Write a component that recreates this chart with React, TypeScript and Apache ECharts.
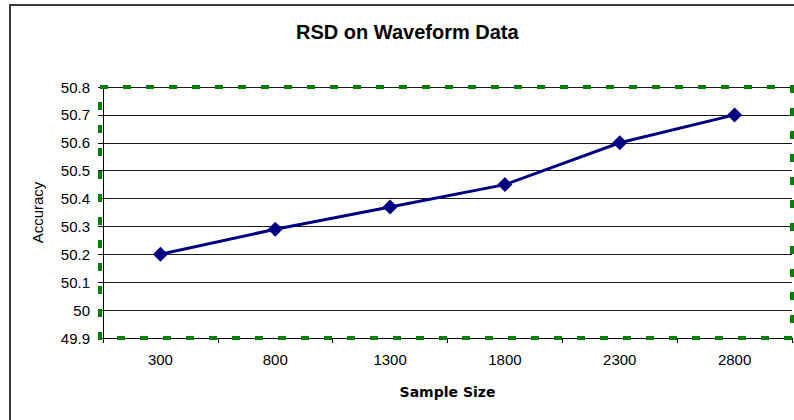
import React, { useEffect, useRef } from "react";
import * as echarts from "echarts";

const titleText = "RSD on Waveform Data";
const categories = ["300", "800", "1300", "1800", "2300", "2800"];
const accuracy = [50.2, 50.29, 50.37, 50.45, 50.6, 50.7];
const yMin = 49.9;
const yMax = 50.8;
const yStep = 0.1;
const xName = "Sample Size";
const yName = "Accuracy";

export default function App() {
  const ref = useRef<HTMLDivElement>(null);
  useEffect(() => {
    if (!ref.current) return;
    const chart = echarts.init(ref.current, null, { renderer: "svg" });
    const font = "'Liberation Sans', Arial, sans-serif";
    chart.setOption({
      animation: false,
      backgroundColor: "#ffffff",
      title: {
        text: titleText,
        left: 291,
        top: 17,
        textStyle: { fontFamily: font, fontSize: 20, fontWeight: "bold", color: "#000" },
      },
      grid: { left: 103, right: 2, top: 87, bottom: 82 },
      xAxis: {
        type: "category",
        data: categories,
        boundaryGap: true,
        name: xName,
        nameLocation: "middle",
        nameGap: 47,
        nameTextStyle: { fontFamily: "'DejaVu Sans', sans-serif", fontSize: 14, fontWeight: "bold", color: "#000" },
        axisLine: { lineStyle: { color: "#000", width: 1 } },
        axisTick: { show: true, length: 5, lineStyle: { color: "#000" } },
        axisLabel: { fontFamily: font, fontSize: 15, color: "#000", margin: 14 },
        splitLine: { show: false },
      },
      yAxis: {
        type: "value",
        min: yMin,
        max: yMax,
        interval: yStep,
        name: yName,
        nameLocation: "middle",
        nameGap: 58,
        nameRotate: 90,
        nameTextStyle: { fontFamily: font, fontSize: 15, color: "#000" },
        axisLine: { show: true, lineStyle: { color: "#000", width: 1 } },
        axisTick: { show: true, length: 5, lineStyle: { color: "#000" } },
        axisLabel: {
          fontFamily: font,
          fontSize: 15,
          color: "#000",
          margin: 13,
          formatter: (v: number) => String(parseFloat(v.toFixed(1))),
        },
        splitLine: { show: true, lineStyle: { color: "#1a1a1a", width: 1 } },
      },
      series: [
        {
          type: "line",
          data: accuracy,
          symbol: "diamond",
          symbolSize: 15,
          lineStyle: { color: "#000080", width: 3 },
          itemStyle: { color: "#000080" },
          z: 5,
        },
      ],
      graphic: [
        {
          type: "rect",
          shape: { x: 10, y: 5, width: 820, height: 450 },
          style: { fill: "none", stroke: "#3a3a3a", lineWidth: 2 },
          silent: true,
          z: 100,
        },
        {
          type: "rect",
          shape: { x: 100, y: 87, width: 692, height: 251 },
          style: { fill: "none", stroke: "#008000", lineWidth: 4, lineDash: [8, 15] },
          silent: true,
          z: 100,
        },
      ],
    });
    return () => chart.dispose();
  }, []);
  return (
    <div
      ref={ref}
      style={{ position: "absolute", left: 0, top: 0, width: 794, height: 420, background: "#fff" }}
    />
  );
}
